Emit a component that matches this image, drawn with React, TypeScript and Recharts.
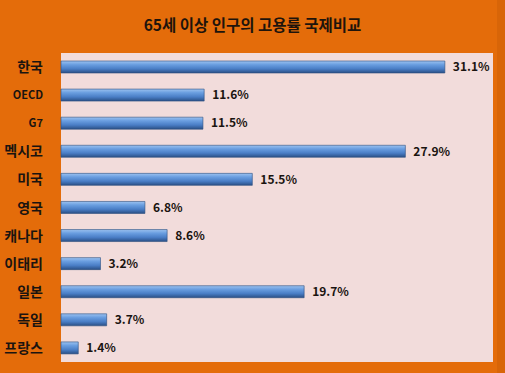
import React from "react";
import { BarChart, Bar, XAxis, YAxis, CartesianGrid, LabelList } from "recharts";

const countries = ["한국", "OECD", "G7", "멕시코", "미국", "영국", "캐나다", "이태리", "일본", "독일", "프랑스"];
const rates = [31.1, 11.6, 11.5, 27.9, 15.5, 6.8, 8.6, 3.2, 19.7, 3.7, 1.4];
const title = "65세 이상 인구의 고용률 국제비교";

const data = countries.map((c, i) => ({ name: c, value: rates[i] }));

const FONT = "'Noto Sans CJK KR', 'Noto Sans', sans-serif";

const CategoryTick = (props: any) => {
  const { x, y, payload } = props;
  const latin = /^[A-Za-z0-9]+$/.test(payload.value);
  return (
    <text
      x={x - 10}
      y={y}
      dy={latin ? 4 : 5}
      textAnchor="end"
      fontFamily={FONT}
      fontWeight={latin ? 700 : 600}
      fontSize={latin ? 11 : 14}
      fill="#1a1410"
    >
      {payload.value}
    </text>
  );
};

export default function App() {
  return (
    <div style={{ position: "fixed", left: 0, top: 0, width: 505, height: 373, background: "#E46C0A" }}>
      <div style={{ position: "absolute", right: 0, top: 0, width: 8, height: 373, background: "#D86508" }} />
      <div
        style={{
          position: "absolute",
          left: 0,
          top: 13,
          width: 505,
          textAlign: "center",
          fontFamily: FONT,
          fontWeight: 700,
          fontSize: 15.5,
          color: "#1e140c",
        }}
      >
        {title}
      </div>
      <div style={{ position: "absolute", left: 0, top: 0 }}>
        <BarChart
          width={505}
          height={373}
          data={data}
          layout="vertical"
          margin={{ top: 53, right: 12, bottom: 11, left: 0 }}
        >
          <defs>
            <linearGradient id="barGrad" x1="0" y1="0" x2="0" y2="1">
              <stop offset="0%" stopColor="#9cc2f0" />
              <stop offset="30%" stopColor="#6a9ee0" />
              <stop offset="65%" stopColor="#4a7ec6" />
              <stop offset="100%" stopColor="#2a4f85" />
            </linearGradient>
          </defs>
          <CartesianGrid horizontal={false} vertical={false} fill="#F2DCDB" fillOpacity={1} />
          <XAxis type="number" domain={[0, 35]} hide />
          <YAxis
            type="category"
            dataKey="name"
            width={61}
            axisLine={false}
            tickLine={false}
            tick={<CategoryTick />}
            interval={0}
          />
          <Bar dataKey="value" barSize={12} fill="url(#barGrad)" stroke="#2b4f80" strokeWidth={0.6} isAnimationActive={false}>
            <LabelList
              dataKey="value"
              position="right"
              offset={8}
              formatter={(v: any) => `${Number(v).toFixed(1)}%`}
              style={{ fontFamily: FONT, fontWeight: 700, fontSize: 12, fill: "#1a1410" }}
            />
          </Bar>
        </BarChart>
      </div>
    </div>
  );
}
